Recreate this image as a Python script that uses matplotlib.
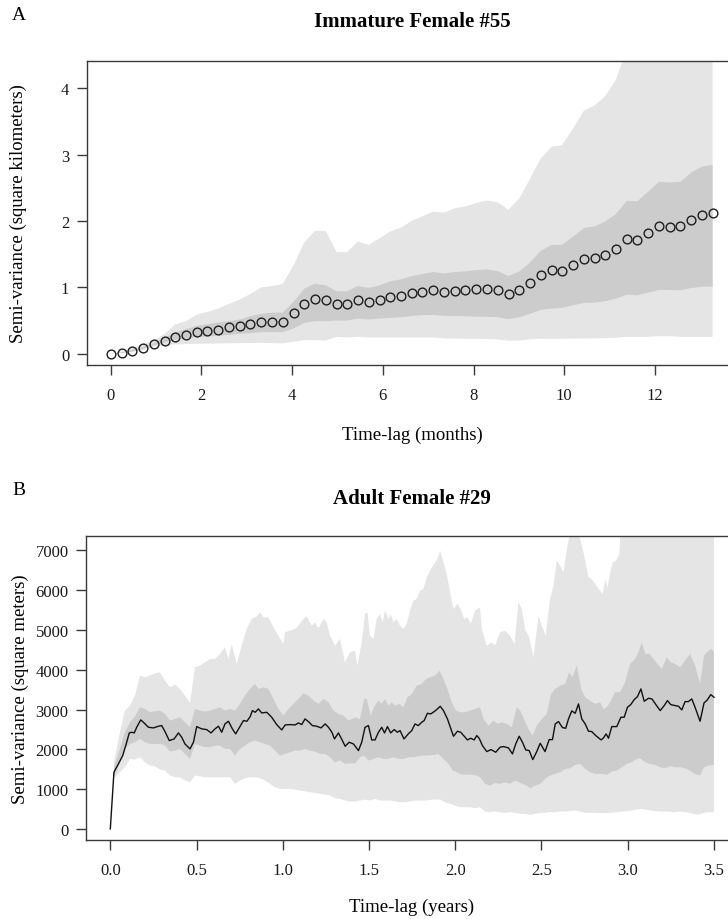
import matplotlib
matplotlib.use("Agg")
import matplotlib.pyplot as plt
import numpy as np

plt.rcParams['font.family'] = ['Liberation Serif', 'DejaVu Serif']

# ---------------- Panel A data (months, square km) ----------------
lag_months = [0, 0.24, 0.47, 0.71, 0.95, 1.19, 1.42, 1.66, 1.90, 2.13, 2.37, 2.61, 2.84, 3.08,
              3.32, 3.56, 3.79, 4.03, 4.27, 4.50, 4.74, 4.98, 5.21, 5.45, 5.69, 5.93, 6.16, 6.40,
              6.64, 6.87, 7.11, 7.35, 7.58, 7.82, 8.06, 8.30, 8.53, 8.77, 9.01, 9.24, 9.48, 9.72,
              9.95, 10.19, 10.43, 10.67, 10.90, 11.14, 11.38, 11.61, 11.85, 12.09, 12.32, 12.56,
              12.80, 13.04, 13.27]
sv_km = [0, 0.01, 0.04, 0.08, 0.145, 0.185, 0.255, 0.28, 0.33, 0.345, 0.36, 0.395, 0.415, 0.45,
         0.485, 0.485, 0.485, 0.615, 0.755, 0.82, 0.805, 0.75, 0.745, 0.815, 0.78, 0.815, 0.855,
         0.875, 0.91, 0.93, 0.955, 0.93, 0.95, 0.955, 0.97, 0.98, 0.955, 0.895, 0.96, 1.07, 1.185,
         1.255, 1.245, 1.33, 1.43, 1.445, 1.49, 1.575, 1.73, 1.715, 1.82, 1.93, 1.915, 1.925, 2.02,
         2.09, 2.115]
outer_hi_km = [0, 0.03, 0.08, 0.14, 0.2, 0.3, 0.44, 0.49, 0.59, 0.63, 0.68, 0.75, 0.815, 0.9, 1.0,
               1.02, 1.05, 1.33, 1.68, 1.85, 1.85, 1.53, 1.53, 1.69, 1.64, 1.74, 1.84, 1.9, 2.0,
               2.07, 2.14, 2.125, 2.19, 2.22, 2.27, 2.31, 2.28, 2.17, 2.34, 2.63, 2.94, 3.12, 3.14,
               3.39, 3.66, 3.74, 3.88, 4.13, 4.6, 5.0, 5.3, 5.6, 5.8, 6.0, 6.3, 6.5, 6.6]
outer_lo_km = [0, 0.01, 0.03, 0.06, 0.105, 0.125, 0.14, 0.145, 0.15, 0.152, 0.155, 0.158, 0.16,
               0.162, 0.165, 0.16, 0.155, 0.18, 0.205, 0.205, 0.2, 0.255, 0.245, 0.255, 0.245,
               0.245, 0.245, 0.245, 0.245, 0.245, 0.245, 0.23, 0.228, 0.225, 0.225, 0.22, 0.215,
               0.195, 0.2, 0.215, 0.225, 0.225, 0.225, 0.228, 0.23, 0.232, 0.235, 0.24, 0.255,
               0.255, 0.255, 0.265, 0.265, 0.255, 0.255, 0.255, 0.255]
inner_hi_km = [0, 0.02, 0.06, 0.1, 0.155, 0.24, 0.32, 0.37, 0.42, 0.445, 0.47, 0.49, 0.515, 0.565,
               0.6, 0.62, 0.62, 0.78, 0.98, 1.055, 1.03, 0.94, 0.94, 1.02, 0.99, 1.03, 1.09, 1.12,
               1.17, 1.2, 1.23, 1.21, 1.23, 1.24, 1.26, 1.27, 1.245, 1.17, 1.24, 1.37, 1.55, 1.64,
               1.64, 1.76, 1.89, 1.92, 1.99, 2.105, 2.305, 2.295, 2.44, 2.59, 2.58, 2.59, 2.73,
               2.82, 2.845]
inner_lo_km = [0, 0.01, 0.03, 0.07, 0.13, 0.17, 0.215, 0.23, 0.25, 0.26, 0.27, 0.285, 0.3, 0.31,
               0.325, 0.325, 0.325, 0.38, 0.465, 0.49, 0.49, 0.5, 0.5, 0.53, 0.515, 0.53, 0.54,
               0.55, 0.57, 0.58, 0.585, 0.57, 0.57, 0.565, 0.56, 0.555, 0.55, 0.52, 0.55, 0.6, 0.66,
               0.68, 0.69, 0.73, 0.765, 0.77, 0.79, 0.83, 0.89, 0.88, 0.92, 0.96, 0.96, 0.955, 0.99,
               1.01, 1.01]

# ---------------- Panel B data (years, square m) ----------------
lag_years = [0, 0.021, 0.047, 0.072, 0.095, 0.110, 0.124, 0.139, 0.153, 0.176, 0.192, 0.221, 0.250,
             0.279, 0.298, 0.317, 0.342, 0.370, 0.395, 0.414, 0.433, 0.462, 0.482, 0.501, 0.530,
             0.559, 0.584, 0.607, 0.627, 0.646, 0.665, 0.685,
             0.708, 0.727, 0.747, 0.772, 0.792, 0.811, 0.824, 0.840, 0.859, 0.878, 0.907, 0.936,
             0.965, 0.994, 1.014, 1.042, 1.071, 1.091, 1.110, 1.129, 1.149, 1.172, 1.197, 1.222,
             1.246, 1.265, 1.285, 1.300, 1.323, 1.343, 1.362, 1.385,
             1.410, 1.439, 1.458, 1.477, 1.497, 1.516, 1.535, 1.555, 1.574, 1.590, 1.607, 1.626,
             1.646, 1.665, 1.680, 1.703, 1.728, 1.748, 1.767, 1.786, 1.806, 1.820, 1.839, 1.858,
             1.878, 1.897, 1.913, 1.932, 1.955, 1.975, 1.990, 2.013, 2.032, 2.052, 2.071, 2.090,
             2.110, 2.125,
             2.139, 2.158, 2.183, 2.208, 2.235, 2.260, 2.280, 2.309, 2.332, 2.351, 2.371, 2.390,
             2.409, 2.429, 2.450, 2.473, 2.493, 2.521, 2.545, 2.564, 2.580, 2.599, 2.622, 2.641,
             2.657, 2.676, 2.696, 2.715, 2.734, 2.754, 2.773, 2.792, 2.815, 2.846,
             2.860, 2.875, 2.889, 2.908, 2.937, 2.961, 2.980, 2.999, 3.018, 3.038, 3.057, 3.077,
             3.096, 3.121, 3.141, 3.165, 3.189, 3.212, 3.231, 3.250, 3.275, 3.295, 3.314, 3.333,
             3.352, 3.372, 3.391, 3.420, 3.443, 3.462, 3.482, 3.501]
sv_m = [0, 1424, 1633, 1843, 2178, 2412, 2429, 2412, 2554, 2739, 2680, 2554, 2538, 2580, 2596,
        2446, 2219, 2261, 2412, 2303, 2135, 2010, 2178, 2571, 2513, 2496, 2412, 2513, 2580, 2429,
        2638, 2705,
        2513, 2387, 2538, 2722, 2705, 2822, 2973, 2931, 3015, 2914, 2931, 2806, 2621, 2487, 2613,
        2621, 2613, 2663, 2621, 2764, 2697, 2596, 2580, 2538, 2638, 2554, 2429, 2261, 2412, 2244,
        2077, 2178,
        2135, 1968, 2178, 2554, 2596, 2236, 2236, 2429, 2554, 2412, 2571, 2412, 2496, 2429, 2471,
        2261, 2387, 2471, 2638, 2596, 2680, 2722, 2906, 2889, 2948, 3015, 3082, 2973, 2764, 2513,
        2328, 2454, 2429, 2328, 2236, 2278, 2236, 2345,
        2278, 2094, 1943, 1993, 1926, 2052, 2069, 2035, 1884, 2135, 2328, 2178, 1985, 1968, 1742,
        1943, 2152, 1943, 2244, 2244, 2638, 2697, 2546, 2529, 2764, 2965, 2906, 3141, 2764, 2638,
        2454, 2446, 2345, 2236,
        2286, 2387, 2278, 2571, 2571, 2806, 2806, 3057, 3124, 3249, 3325, 3518, 3208, 3283, 3266,
        3116, 2973, 3099, 3224, 3124, 3099, 3082, 2990, 3199, 3199, 3266, 3057, 2705, 3166, 3241,
        3375, 3308]

outer_hi_lag = [0.021, 0.056, 0.085, 0.114, 0.143, 0.172, 0.201, 0.230, 0.259, 0.288, 0.317, 0.346,
                0.375, 0.404, 0.433, 0.462, 0.491, 0.520, 0.549, 0.578, 0.607, 0.636, 0.665,
                0.685, 0.704, 0.733, 0.762, 0.791, 0.820, 0.849, 0.868, 0.888, 0.917, 0.946, 0.975,
                1.004, 1.013, 1.042, 1.071, 1.091, 1.120, 1.139, 1.168, 1.187, 1.207, 1.236, 1.255,
                1.274, 1.303, 1.332, 1.361, 1.390, 1.419,
                1.433, 1.458, 1.477, 1.491, 1.506, 1.526, 1.545, 1.564, 1.578, 1.593, 1.613, 1.626,
                1.642, 1.661, 1.680, 1.700, 1.719, 1.738, 1.758, 1.777, 1.796, 1.816, 1.835, 1.854,
                1.874, 1.897, 1.913, 1.932, 1.951, 1.970, 1.990, 2.013, 2.032, 2.052, 2.071, 2.090,
                2.115, 2.144,
                2.154, 2.183, 2.212, 2.231, 2.260, 2.289, 2.318, 2.344, 2.367, 2.386, 2.406, 2.429,
                2.454, 2.483, 2.502, 2.525, 2.550, 2.570, 2.589, 2.609, 2.628, 2.648, 2.666, 2.696,
                2.725, 2.744, 2.773, 2.792, 2.812, 2.840,
                2.856, 2.869, 2.883, 2.898, 2.914, 2.933, 2.952, 2.960, 3.0, 3.1, 3.2, 3.3, 3.4, 3.5]
outer_hi_m = [1675, 2429, 2973, 3099, 3350, 3853, 3811, 3853, 3911, 3936, 3727, 3559, 3626, 3517,
              3350, 3166, 4062, 4104, 4188, 4271, 4271, 4397, 4564,
              4271, 4648, 4146, 4606, 5025, 5276, 5343, 5444, 5318, 5318, 5067, 4857, 4648, 4941,
              4983, 5025, 5109, 5276, 5343, 5109, 5192, 5042, 5276, 5192, 4857, 4606, 4774, 4188,
              4439, 4481,
              4104, 4690, 5402, 5444, 4857, 4774, 5276, 5402, 5192, 5486, 5276, 5402, 5192, 5276,
              5109, 5025, 5151, 5486, 5737, 5779, 5988, 6030, 6323, 6490, 6633, 6784, 6993, 6700,
              6407, 5946, 5528, 5653, 5528, 5276, 5318, 5151, 5486, 5569,
              5025, 4606, 4690, 4606, 4941, 4983, 4857, 4648, 5695, 5528, 5025, 4816, 4313, 5360,
              5109, 4857, 5779, 6114, 6742, 6616, 6449, 7035, 7450, 7450, 7286, 6951, 6323, 6281,
              6156, 5988,
              5904, 6281, 6072, 6407, 6700, 6742, 6909, 7600, 8200, 8800, 9300, 9600, 9900, 10000]

outer_lo_lag = [0.021, 0.056, 0.085, 0.114, 0.143, 0.172, 0.201, 0.230, 0.259, 0.288, 0.317, 0.346,
                0.375, 0.404, 0.433, 0.462, 0.491, 0.520, 0.549, 0.578, 0.607, 0.636, 0.665, 0.694,
                0.723, 0.752, 0.781, 0.810, 0.839, 0.868, 0.897, 0.926, 0.955, 0.984, 1.013, 1.042,
                1.071, 1.100, 1.129, 1.158, 1.187, 1.216, 1.245, 1.274, 1.303, 1.332, 1.361, 1.390,
                1.419,
                1.448, 1.477, 1.506, 1.535, 1.564, 1.593, 1.622, 1.651, 1.680, 1.709, 1.738, 1.767,
                1.796, 1.825, 1.854, 1.883, 1.913, 1.942, 1.970, 1.999, 2.028, 2.057, 2.086, 2.115,
                2.144,
                2.174, 2.202, 2.231, 2.260, 2.289, 2.318, 2.348, 2.377, 2.406, 2.435, 2.464, 2.493,
                2.522, 2.550, 2.580, 2.609, 2.638, 2.666, 2.696, 2.725, 2.754, 2.782, 2.812, 2.840,
                2.898, 2.937, 2.976, 3.014, 3.053, 3.082, 3.111, 3.150, 3.189, 3.227, 3.266, 3.305,
                3.343, 3.382, 3.410, 3.439, 3.469, 3.500]
outer_lo_m = [1273, 1424, 1549, 1759, 1742, 1801, 1675, 1591, 1575, 1491, 1466, 1340, 1298, 1298,
              1214, 1173, 1340, 1323, 1298, 1298, 1298, 1298, 1298, 1298,
              1131, 1214, 1273, 1298, 1298, 1273, 1214, 1131, 1047, 1005, 1005, 1005, 988, 963,
              946, 921, 905, 879, 863, 838, 771, 754, 712, 687, 687,
              712, 737, 712, 754, 712, 712, 712, 687, 670, 670, 687, 712, 712, 712, 729, 737, 737,
              670, 628, 586, 544, 544, 544, 519, 544,
              436, 419, 436, 419, 402, 419, 402, 377, 377, 352, 377, 402, 402, 419, 419, 436, 436,
              452, 461, 436, 402, 402, 402, 394,
              402, 419, 436, 452, 486, 503, 477, 452, 436, 436, 419, 436, 419, 377, 352, 402, 419,
              419]

inner_hi_lag = [0.021, 0.056, 0.085, 0.114, 0.143, 0.172, 0.201, 0.230, 0.259, 0.288, 0.317, 0.346,
                0.375, 0.404, 0.433, 0.462, 0.491, 0.520, 0.549, 0.578, 0.607, 0.636, 0.665, 0.694,
                0.723, 0.752, 0.781, 0.810, 0.839, 0.859, 0.888, 0.917, 0.946, 0.975, 1.004, 1.033,
                1.062, 1.091, 1.120, 1.149, 1.178, 1.207, 1.236, 1.265, 1.294, 1.323, 1.352, 1.381,
                1.419,
                1.448, 1.472, 1.487, 1.510, 1.535, 1.555, 1.574, 1.593, 1.613, 1.632, 1.651, 1.676,
                1.700, 1.723, 1.748, 1.777, 1.806, 1.831, 1.854, 1.883, 1.909, 1.932, 1.955, 1.980,
                2.005, 2.028, 2.057, 2.086, 2.115, 2.144,
                2.164, 2.193, 2.222, 2.247, 2.270, 2.299, 2.328, 2.357, 2.377, 2.402, 2.425, 2.449,
                2.473, 2.502, 2.531, 2.556, 2.580, 2.609, 2.638, 2.661, 2.680, 2.705, 2.731, 2.754,
                2.782, 2.812, 2.840,
                2.860, 2.879, 2.898, 2.927, 2.956, 2.985, 3.014, 3.043, 3.063, 3.082, 3.102, 3.127,
                3.150, 3.173, 3.198, 3.227, 3.250, 3.275, 3.305, 3.333, 3.362, 3.391, 3.420, 3.443,
                3.469, 3.488, 3.500]
inner_hi_m = [1549, 2010, 2429, 2680, 2831, 3057, 3015, 2931, 2956, 2973, 2889, 2722, 2764, 2806,
              2680, 2554, 3015, 2973, 2948, 2973, 3015, 3057, 2973, 3015,
              2973, 3141, 3350, 3518, 3643, 3518, 3559, 3518, 3266, 3015, 2848, 3015, 3141, 3266,
              3409, 3350, 3224, 3141, 3266, 3183, 2973, 2889, 2848, 2722, 2800,
              2764, 3266, 3266, 2848, 3099, 3224, 3141, 3266, 3099, 3183, 3099, 3141, 3057, 3308,
              3392, 3601, 3643, 3769, 3811, 3853, 3978, 3769, 3518, 3183, 2973, 2931, 2931, 2973,
              3015, 3057,
              2764, 2596, 2722, 2638, 2680, 2638, 2554, 3057, 2973, 2722, 2513, 2345, 2596, 2764,
              2889, 3392, 3518, 3601, 3643, 3936, 3811, 4104, 3518, 3308, 3224, 3141, 3183,
              3015, 3057, 3183, 3434, 3434, 3685, 4146, 4271, 4439, 4690, 4397, 4397, 4271, 4146,
              4020, 4313, 4188, 4146, 4062, 4229, 4397, 4104, 3643, 4355, 4481, 4523, 4439]

inner_lo_lag = [0.021, 0.056, 0.085, 0.114, 0.143, 0.172, 0.201, 0.230, 0.259, 0.288, 0.317, 0.346,
                0.375, 0.404, 0.433, 0.462, 0.491, 0.520, 0.549, 0.578, 0.607, 0.636, 0.665, 0.694,
                0.723, 0.752, 0.781, 0.810, 0.839, 0.868, 0.897, 0.926, 0.955, 0.984, 1.013, 1.042,
                1.071, 1.100, 1.129, 1.158, 1.187, 1.216, 1.245, 1.274, 1.303, 1.332, 1.361, 1.390,
                1.419,
                1.448, 1.472, 1.497, 1.526, 1.555, 1.584, 1.613, 1.642, 1.671, 1.700, 1.728, 1.758,
                1.787, 1.816, 1.845, 1.874, 1.903, 1.932, 1.961, 1.986, 2.009, 2.038, 2.067, 2.096,
                2.125,
                2.144, 2.174, 2.202, 2.231, 2.260, 2.289, 2.318, 2.348, 2.377, 2.406, 2.435, 2.464,
                2.493, 2.522, 2.550, 2.580, 2.609, 2.638, 2.666, 2.696, 2.725, 2.754, 2.782, 2.812,
                2.840,
                2.860, 2.879, 2.908, 2.937, 2.966, 2.995, 3.024, 3.053, 3.072, 3.102, 3.130, 3.159,
                3.189, 3.218, 3.246, 3.275, 3.305, 3.333, 3.362, 3.391, 3.420, 3.443, 3.469, 3.500]
inner_lo_m = [1298, 1675, 2010, 2135, 2178, 2261, 2178, 2135, 2135, 2135, 2094, 1943, 1968, 2010,
              1884, 1759, 2135, 2094, 2052, 2052, 2094, 2094, 2010, 2010,
              1843, 2010, 2094, 2178, 2219, 2178, 2135, 2094, 1968, 1843, 1884, 1926, 1968, 1968,
              2010, 1968, 1943, 1884, 1884, 1801, 1675, 1717, 1633, 1650, 1640,
              1801, 1843, 1717, 1759, 1801, 1759, 1759, 1801, 1759, 1759, 1801, 1801, 1826, 1843,
              1843, 1859, 1884, 1759, 1633, 1466, 1424, 1365, 1365, 1365, 1340,
              1298, 1131, 1089, 1156, 1131, 1173, 1131, 1214, 1156, 1106, 1022, 1089, 1131, 1256,
              1340, 1382, 1424, 1508, 1524, 1608, 1633, 1508, 1424, 1382, 1382,
              1382, 1357, 1440, 1466, 1549, 1633, 1675, 1759, 1776, 1675, 1633, 1608, 1549, 1524,
              1575, 1549, 1549, 1524, 1466, 1382, 1340, 1549, 1591, 1608]

# ---------------- styling ----------------
W, H = 728, 920
LIGHT = '#e5e5e5'
DARK = '#cccccc'
AXC = '#3a3a3a'

fig = plt.figure(figsize=(W / 100, H / 100), dpi=100)


def style_axes(ax):
    for s in ax.spines.values():
        s.set_color(AXC)
        s.set_linewidth(1.0)
    ax.tick_params(axis='both', direction='out', length=7.5, width=1.0, color=AXC,
                   labelsize=12, labelcolor='#1a1a1a')
    ax.tick_params(axis='x', pad=8)
    ax.tick_params(axis='y', pad=5)


def band(ax, xa, ya, xb, yb, color):
    xs = list(xa) + list(xb)[::-1]
    ys = list(ya) + list(yb)[::-1]
    ax.fill(xs, ys, color=color, lw=0, zorder=1)


# Panel A
axA = fig.add_axes([86.7 / W, 1 - 366 / H, (738 - 86.7) / W, 304 / H])
band(axA, lag_months, outer_hi_km, lag_months, outer_lo_km, LIGHT)
band(axA, lag_months, inner_hi_km, lag_months, inner_lo_km, DARK)
axA.plot(lag_months, sv_km, linestyle='none', marker='o', ms=6.3, mfc='none',
         mec='#1e1e1e', mew=1.0, zorder=3)
axA.set_xlim(-0.53, 13.83)
axA.set_ylim(-0.17, 4.41)
axA.set_xticks([0, 2, 4, 6, 8, 10, 12])
axA.set_yticks([0, 1, 2, 3, 4])
style_axes(axA)
axA.text(0.5, 1.1316, 'Immature Female #55', transform=axA.transAxes, ha='center',
         va='center', fontsize=15, fontweight='bold')
axA.text(0.5, -0.227, 'Time-lag (months)', transform=axA.transAxes, ha='center',
         va='center', fontsize=13.5)
axA.text((18 - 86.7) / 651.3, 0.5, 'Semi-variance (square kilometers)', transform=axA.transAxes,
         ha='center', va='center', rotation=90, fontsize=13.5)

# Panel B
axB = fig.add_axes([86 / W, 1 - 841 / H, (738 - 86) / W, 304.3 / H])
band(axB, outer_hi_lag, outer_hi_m, outer_lo_lag, outer_lo_m, LIGHT)
band(axB, inner_hi_lag, inner_hi_m, inner_lo_lag, inner_lo_m, DARK)
axB.plot(lag_years, sv_m, color='#111111', lw=1.0, zorder=3)
axB.set_xlim(-0.141, 3.64)
axB.set_ylim(-280, 7370)
axB.set_xticks([0, 0.5, 1.0, 1.5, 2.0, 2.5, 3.0, 3.5])
axB.set_xticklabels(['0.0', '0.5', '1.0', '1.5', '2.0', '2.5', '3.0', '3.5'])
axB.set_yticks([0, 1000, 2000, 3000, 4000, 5000, 6000, 7000])
style_axes(axB)
axB.text(0.5, 1.1255, 'Adult Female #29', transform=axB.transAxes, ha='center',
         va='center', fontsize=15, fontweight='bold')
axB.text(0.5, -0.217, 'Time-lag (years)', transform=axB.transAxes, ha='center',
         va='center', fontsize=13.5)
axB.text((20 - 86) / 652, 0.5, 'Semi-variance (square meters)', transform=axB.transAxes,
         ha='center', va='center', rotation=90, fontsize=13.5)

fig.text(19 / W, 1 - 15 / H, 'A', ha='center', va='center', fontsize=14)
fig.text(19 / W, 1 - 491 / H, 'B', ha='center', va='center', fontsize=14)

fig.savefig('out.png', dpi=100)
